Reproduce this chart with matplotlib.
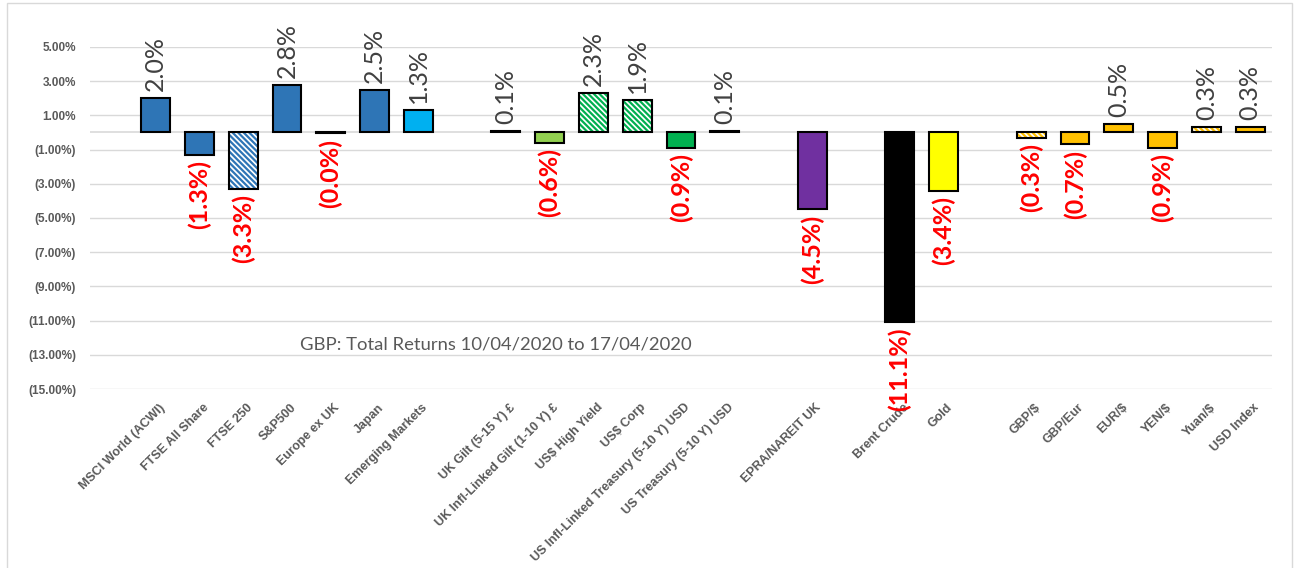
import numpy as np
import matplotlib
matplotlib.use("Agg")
from matplotlib import pyplot as plt
from matplotlib.patches import Rectangle
from matplotlib.transforms import ScaledTranslation

# categories, "" marks an empty slot between groups
categories = ["MSCI World (ACWI)", "FTSE All Share", "FTSE 250", "S&P500", "Europe ex UK",
              "Japan", "Emerging Markets", "",
              "UK Gilt (5-15 Y) £", "UK Infl-Linked Gilt (1-10 Y) £", "US$ High Yield", "US$ Corp",
              "US Infl-Linked Treasury (5-10 Y) USD", "US Treasury (5-10 Y) USD", "",
              "EPRA/NAREIT UK", "", "Brent Crude", "Gold", "",
              "GBP/$", "GBP/Eur", "EUR/$", "YEN/$", "Yuan/$", "USD Index"]
returns = [2.0, -1.3, -3.3, 2.8, -0.04, 2.5, 1.3, np.nan,
           0.1, -0.6, 2.3, 1.9, -0.9, 0.1, np.nan,
           -4.5, np.nan, -11.1, -3.4, np.nan,
           -0.3, -0.7, 0.5, -0.9, 0.3, 0.3]
colors = ["#2E75B6", "#2E75B6", "#2E75B6", "#2E75B6", "#2E75B6", "#2E75B6", "#00B0F0", None,
          "#404040", "#92D050", "#00B050", "#00B050", "#00B050", "#404040", None,
          "#7030A0", None, "#000000", "#FFFF00", None,
          "#FFC000", "#FFC000", "#FFC000", "#FFC000", "#FFC000", "#FFC000"]
hatched = [False, False, True, False, False, False, False, False,
           False, False, True, True, False, False, False,
           False, False, False, False, False,
           True, False, False, False, True, False]
yticks = [5, 3, 1, -1, -3, -5, -7, -9, -11, -13, -15]
title = "GBP: Total Returns 10/04/2020 to 17/04/2020"

plt.rcParams["hatch.linewidth"] = 1.6

fig = plt.figure(figsize=(12.97, 5.68), dpi=100)
ax = fig.add_axes([0.0694, 0.3151, 0.9113, 0.6022])

x = np.arange(len(categories))
w = 0.66
for xi, v, c, h in zip(x, returns, colors, hatched):
    if np.isnan(v):
        continue
    if h:
        ax.bar(xi, v, w, color="white", edgecolor=c, hatch="\\\\\\\\\\\\", linewidth=0, zorder=3)
        ax.bar(xi, v, w, color="none", edgecolor="black", linewidth=1.5, zorder=4)
    else:
        ax.bar(xi, v, w, color=c, edgecolor="black", linewidth=1.5, zorder=3)
    if v >= 0:
        ax.annotate(f"{v:.1f}%", (xi, v), xytext=(0, 5), textcoords="offset points",
                    rotation=90, ha="center", va="bottom", fontsize=18,
                    family="Lato", color="#404040", annotation_clip=False)
    else:
        ax.annotate(f"({abs(v):.1f}%)", (xi, v), xytext=(0, -4), textcoords="offset points",
                    rotation=90, ha="center", va="top", fontsize=18, fontweight="bold",
                    family="Lato", color="#FF0000", annotation_clip=False)

ax.axhline(0, color="#D9D9D9", lw=1.2, zorder=2)
ax.set_ylim(-15, 5)
ax.set_xlim(-1.5, len(categories) - 0.5)
ax.set_yticks(yticks)
ax.set_yticklabels([f"{t:.2f}%" if t > 0 else f"({abs(t):.2f}%)" for t in yticks],
                   fontsize=8.5, fontweight="bold", family="Liberation Sans", color="#595959")
ax.grid(axis="y", color="#D9D9D9", lw=1, zorder=0)
ax.set_axisbelow(True)
ax.tick_params(axis="y", length=0, pad=10)
ax.set_xticks(x)
ax.set_xticklabels(categories, rotation=45, ha="right", rotation_mode="anchor",
                   fontsize=9, fontweight="bold", family="Liberation Sans", color="#595959")
ax.tick_params(axis="x", length=0, pad=9)
shift = ScaledTranslation(3 / 100, 0, fig.dpi_scale_trans)
for lbl in ax.get_xticklabels():
    lbl.set_transform(lbl.get_transform() + shift)
for s in ax.spines.values():
    s.set_visible(False)

ax.text(0.343, 0.129, title, transform=ax.transAxes, ha="center", va="center",
        fontsize=13.3, family="Lato", color="#595959")

fig.patches.append(Rectangle((7 / 1297, -0.02), 1285 / 1297, 1.02 - 3 / 568,
                             transform=fig.transFigure, fill=False, ec="#D9D9D9", lw=1))

fig.savefig("out.png", dpi=100)
